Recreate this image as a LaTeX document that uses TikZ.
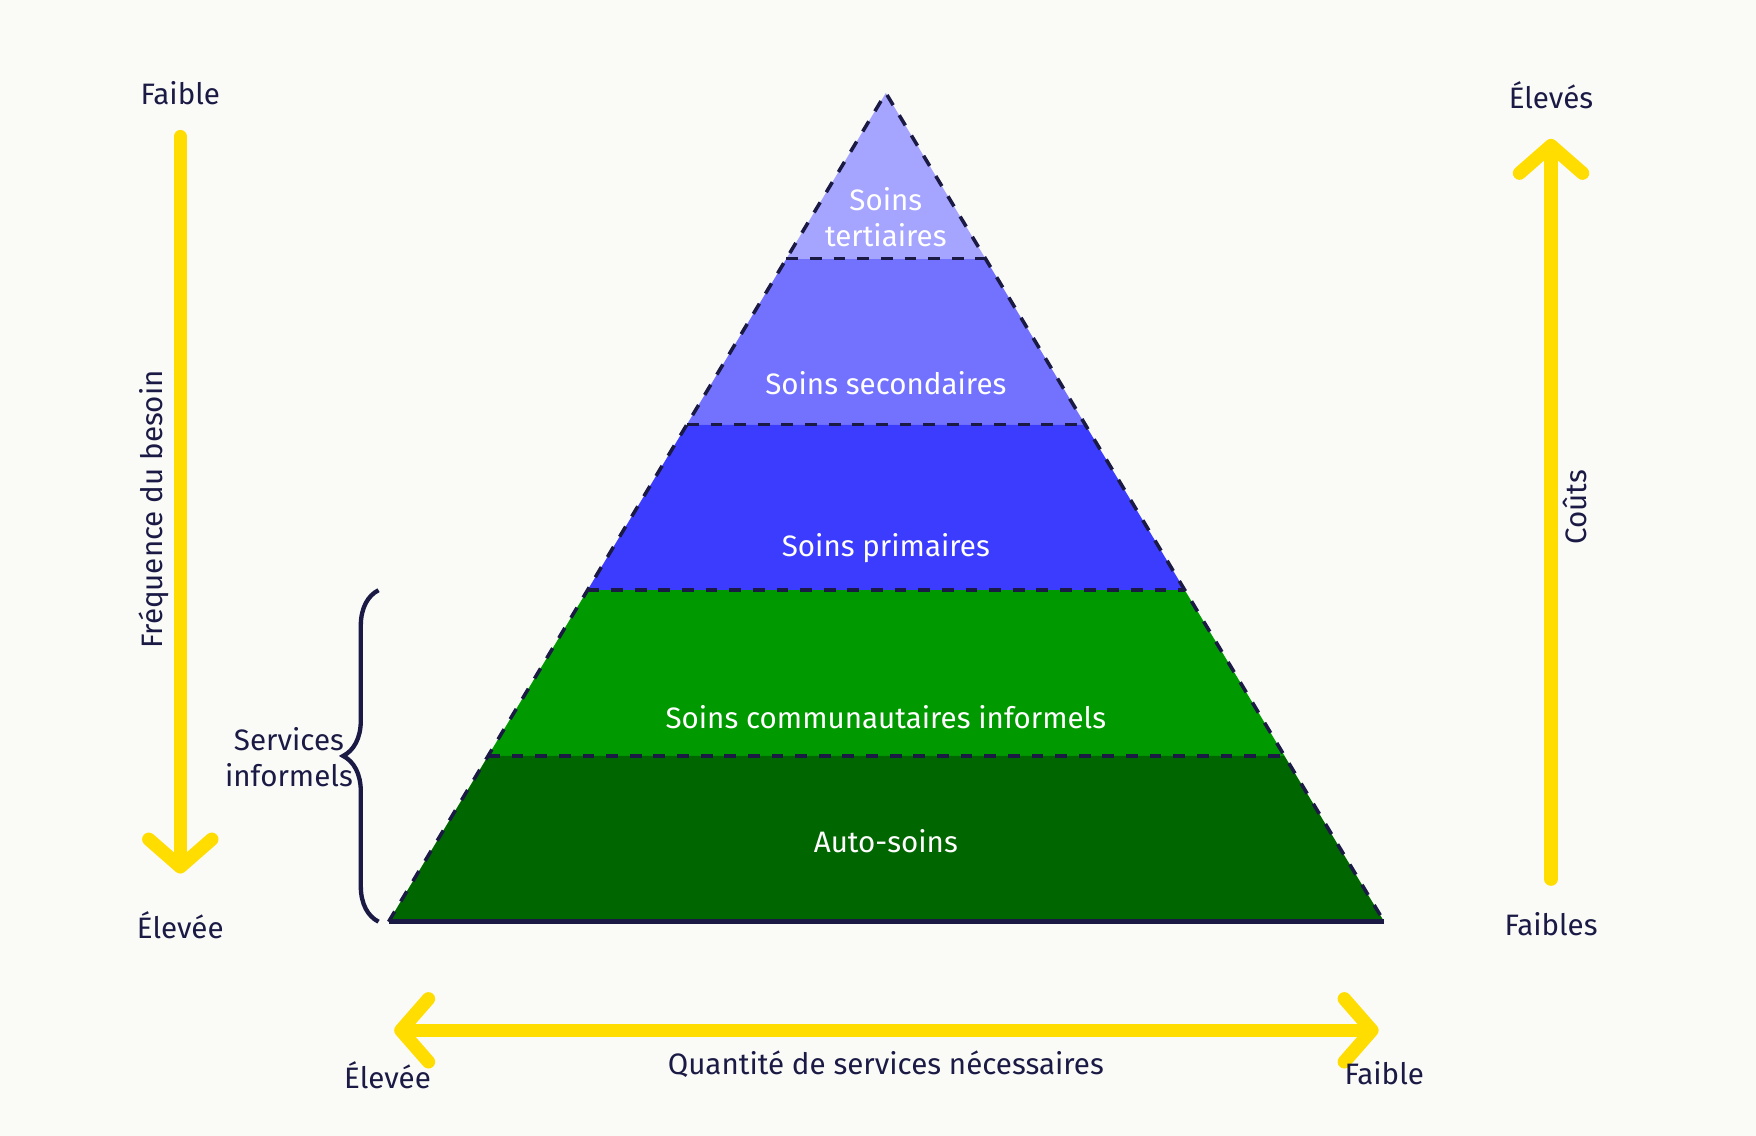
\documentclass[tikz,border=0pt]{standalone}
\usepackage{fontspec}
\setmainfont{Fira Sans}
\usetikzlibrary{arrows.meta,decorations.pathreplacing,calc}
\definecolor{bg}{HTML}{FAFAF7}
\definecolor{navy}{HTML}{1A1A45}
\definecolor{yel}{HTML}{FFDD00}
\definecolor{c1}{HTML}{A5A5FF}
\definecolor{c2}{HTML}{7272FF}
\definecolor{c3}{HTML}{3C3CFF}
\definecolor{c4}{HTML}{009900}
\definecolor{c5}{HTML}{006600}
\begin{document}
\begin{tikzpicture}[x=0.01cm,y=-0.01cm,
  lbl/.style={text=navy,font=\fontsize{7.5}{9}\selectfont,align=center},
  wl/.style={text=white,font=\fontsize{7.5}{9}\selectfont,align=center},
  yarrow/.style={draw=yel,line width=3.4pt,line cap=round,
    -{Straight Barb[length=7pt,width=16pt,line cap=round,line join=round]}},
  ydarrow/.style={draw=yel,line width=3.4pt,line cap=round,
    {Straight Barb[length=7pt,width=16pt,line cap=round,line join=round]}-{Straight Barb[length=7pt,width=16pt,line cap=round,line join=round]}},
  edge/.style={draw=navy,dashed,line width=0.9pt}]
\fill[bg] (0,0) rectangle (1568,1014);
\useasboundingbox (0,0) rectangle (1568,1014);
\coordinate (A) at (791,83);
\coordinate (L) at (347,823);
\coordinate (R) at (1236,823);
\foreach \i/\t in {1/0.2,2/0.4,3/0.6,4/0.8}{
  \coordinate (l\i) at ($(A)!\t!(L)$);
  \coordinate (r\i) at ($(A)!\t!(R)$);}
\fill[c1] (A)--(l1)--(r1)--cycle;
\fill[c2] (l1)--(l2)--(r2)--(r1)--cycle;
\fill[c3] (l2)--(l3)--(r3)--(r2)--cycle;
\fill[c4] (l3)--(l4)--(r4)--(r3)--cycle;
\fill[c5] (l4)--(L)--(R)--(r4)--cycle;
\foreach \i in {1,...,4}{\draw[edge] (l\i)--(r\i);}
\draw[edge] (L)--(A)--(R);
\draw[navy,line width=1.2pt] (L)--(R);
\node[wl] (t1) at (791,194) {Soins\\tertiaires};
\node[wl] (t2) at (791,342) {Soins secondaires};
\node[wl] (t3) at (791,489) {Soins primaires};
\node[wl] (t4) at (791,640) {Soins communautaires informels};
\node[wl] (t5) at (791,751) {Auto-soins};
% left arrow
\coordinate (la1) at (161,122);
\coordinate (la2) at (161,780);
\draw[yarrow] (la1)--(la2);
\node[lbl] (lf) at (161,83) {Faible};
\node[lbl] (le) at (161,826) {Élevée};
\node[lbl,rotate=90] (lt) at (137,455) {Fréquence du besoin};
% right arrow
\coordinate (ra1) at (1385,785);
\coordinate (ra2) at (1385,124);
\draw[yarrow] (ra1)--(ra2);
\node[lbl] (re) at (1385,85) {Élevés};
\node[lbl] (rf) at (1385,825) {Faibles};
\node[lbl,rotate=90] (rt) at (1406,453) {Coûts};
% bottom arrow
\coordinate (ba1) at (352,920);
\coordinate (ba2) at (1231,920);
\draw[ydarrow] (ba1)--(ba2);
\node[lbl] (be) at (346,960) {Élevée};
\node[lbl] (bf) at (1236,958) {Faible};
\node[lbl] (bt) at (791,950) {Quantité de services nécessaires};
% brace
\coordinate (b1) at (338,527);
\coordinate (b2) at (338,823);
\draw[navy,line width=1.1pt,decorate,decoration={brace,amplitude=9pt,mirror,aspect=0.5}] (b1)--(b2);
\node[lbl] (si) at (258,676) {Services\\informels};
\end{tikzpicture}
\end{document}
